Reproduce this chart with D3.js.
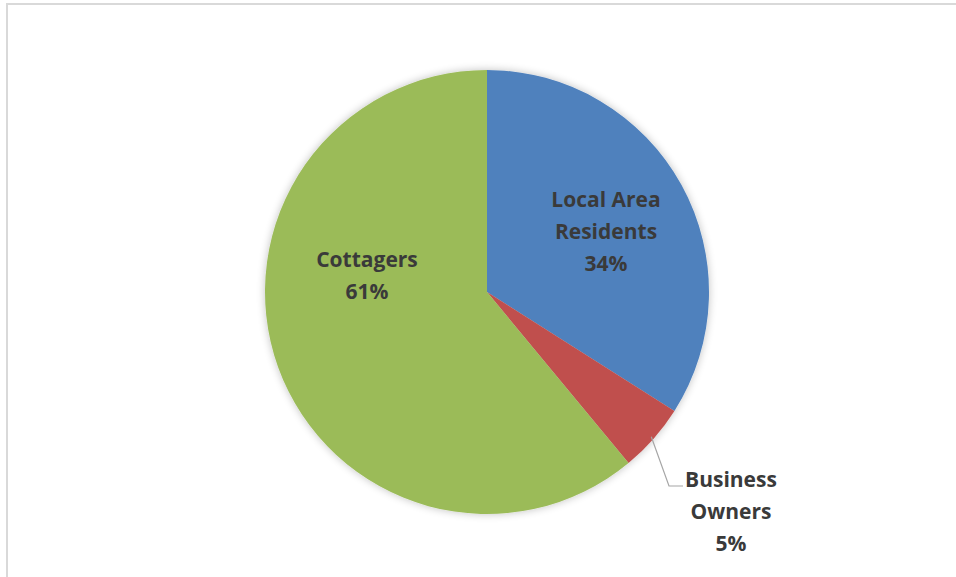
<!DOCTYPE html>
<html>
<head>
<meta charset="utf-8">
<script src="https://cdn.jsdelivr.net/npm/d3@7"></script>
<style>
  html, body { margin: 0; padding: 0; background: #fff; }
  svg { display: block; }
</style>
</head>
<body>
<svg id="chart" width="956" height="577"></svg>
<script>
// Survey respondents by group
const categories = ["Local Area Residents", "Business Owners", "Cottagers"];
const shares = [34, 5, 61];
const labelLines = [["Local Area", "Residents"], ["Business", "Owners"], ["Cottagers"]];
const colors = ["#4F81BD", "#C0504D", "#9BBB59"];

const W = 956, H = 577;
const cx = 487, cy = 292, R = 222;

// label placement (centre of text block) per slice
const labelLayout = {
  "Local Area Residents": { x: 606, y: 232 },
  "Business Owners": { x: 731, y: 512 },
  "Cottagers": { x: 367, y: 276 }
};

const svg = d3.select("#chart");

// frame
svg.append("rect").attr("x", 7).attr("y", 4).attr("width", W + 10).attr("height", H + 10)
  .attr("fill", "#fff").attr("stroke", "#d9d9d9").attr("stroke-width", 2);

const defs = svg.append("defs");
const f = defs.append("filter").attr("id", "soft").attr("x", "-10%").attr("y", "-10%")
  .attr("width", "120%").attr("height", "120%");
f.append("feGaussianBlur").attr("in", "SourceAlpha").attr("stdDeviation", 4).attr("result", "b");
f.append("feComponentTransfer").attr("in", "b").attr("result", "s")
  .append("feFuncA").attr("type", "linear").attr("slope", 0.25);
const m = f.append("feMerge");
m.append("feMergeNode").attr("in", "s");
m.append("feMergeNode").attr("in", "SourceGraphic");

const data = categories.map((c, i) => ({ name: c, value: shares[i], lines: labelLines[i], color: colors[i] }));

const pie = d3.pie().value(d => d.value).sort(null);
const arc = d3.arc().innerRadius(0).outerRadius(R);
const arcs = pie(data);

const g = svg.append("g").attr("transform", `translate(${cx},${cy})`);
const slices = g.append("g").attr("filter", "url(#soft)");
slices.selectAll("path").data(arcs).join("path")
  .attr("d", arc)
  .attr("fill", d => d.data.color);

// leader line for the small slice
const bo = arcs[1];
const boAngle = (bo.startAngle + bo.endAngle) / 2;
const sx = Math.sin(boAngle) * (R - 3) + cx;
const sy = -Math.cos(boAngle) * (R - 3) + cy;
svg.append("polyline")
  .attr("points", `${sx},${sy} ${669},${486} ${683},${486}`)
  .attr("fill", "none").attr("stroke", "#a6a6a6").attr("stroke-width", 1.2);

const lineH = 32;
const labels = svg.append("g")
  .attr("font-family", "'Open Sans', 'DejaVu Sans', sans-serif")
  .attr("font-weight", 700)
  .attr("font-size", 21)
  .attr("fill", "#3a3a3a")
  .attr("text-anchor", "middle");

data.forEach(d => {
  const pos = labelLayout[d.name];
  const rows = d.lines.concat([d.value + "%"]);
  const top = pos.y - (rows.length - 1) * lineH / 2;
  const t = labels.append("text");
  rows.forEach((r, i) => {
    t.append("tspan").attr("x", pos.x).attr("y", top + i * lineH).attr("dy", "0.35em").text(r);
  });
});
</script>
</body>
</html>
